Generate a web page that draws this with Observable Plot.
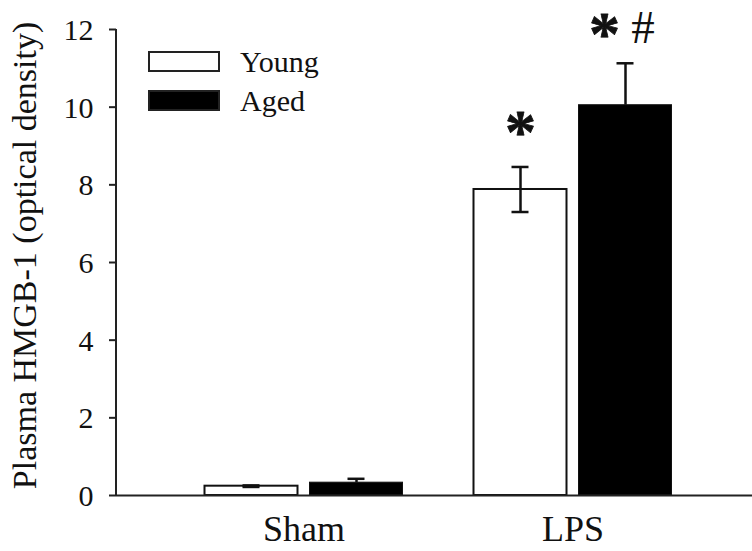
<!DOCTYPE html>
<html>
<head>
<meta charset="utf-8">
<script src="https://cdn.jsdelivr.net/npm/d3@7"></script>
<script src="https://cdn.jsdelivr.net/npm/@observablehq/plot@0.6"></script>
<style>
  html, body { margin: 0; padding: 0; background: #fff; }
  #wrap { position: relative; width: 752px; height: 551px; font-family: "Liberation Serif", "Times New Roman", serif; }
  #wrap svg text { font-family: "Liberation Serif", "Times New Roman", serif; }
  #legend { position: absolute; left: 148px; top: 42px; }
  .item { display: flex; align-items: center; height: 39px; font-size: 30px; color: #111; }
  .sw { width: 68px; height: 17px; border: 2px solid #222; margin-right: 20px; }
</style>
</head>
<body>
<div id="wrap"></div>
<script>
// ---- data ----
const groups = ["Sham", "LPS"];
const series = ["Young", "Aged"];
const youngMean = [0.24, 7.88];
const youngSE = [0.02, 0.58];
const agedMean = [0.33, 10.05];
const agedSE = [0.10, 1.08];
const yTicks = [0, 2, 4, 6, 8, 10, 12];
const yLabel = "Plasma HMGB-1 (optical density)";
const sigYoung = [{group: "LPS", text: "*"}];
const sigAgedStar = [{group: "LPS", text: "*"}];
const sigAgedHash = [{group: "LPS", text: "#"}];
const seriesFill = ["white", "black"];

const young = groups.map((g, i) => ({group: g, mean: youngMean[i], se: youngSE[i]}));
const aged = groups.map((g, i) => ({group: g, mean: agedMean[i], se: agedSE[i]}));
const topOf = (rows, g) => { const r = rows.find(d => d.group === g); return r.mean + r.se; };

const font = "Liberation Serif, Times New Roman, serif";
const axisColor = "#222";

const leftLine = (index, scales, values, dims) => {
  const g = d3.create("svg:line")
    .attr("x1", dims.marginLeft).attr("x2", dims.marginLeft)
    .attr("y1", scales.y(0) + 1).attr("y2", scales.y(12))
    .attr("stroke", axisColor).attr("stroke-width", 2);
  return g.node();
};

const chart = Plot.plot({
  width: 752,
  height: 551,
  marginLeft: 116,
  marginRight: 0,
  marginTop: 29,
  marginBottom: 56,
  style: {fontFamily: font, color: "#111", background: "white", overflow: "visible"},
  x: {domain: groups, range: [168.5, 706.5], padding: 0},
  y: {domain: [0, 12]},
  marks: [
    Plot.barY(young, {x: "group", y: "mean", fill: seriesFill[0], stroke: "#111", strokeWidth: 2, insetLeft: 35.5, insetRight: 140.5}),
    Plot.barY(aged, {x: "group", y: "mean", fill: seriesFill[1], stroke: "#111", strokeWidth: 1, insetLeft: 140.5, insetRight: 35.5}),
    // error bars
    Plot.ruleX(young, {x: "group", y1: d => d.mean - d.se, y2: d => d.mean + d.se, dx: -52.5, stroke: "#111", strokeWidth: 2.5}),
    Plot.ruleX(aged, {x: "group", y1: d => d.mean, y2: d => d.mean + d.se, dx: 52.5, stroke: "#111", strokeWidth: 2.5}),
    Plot.tickY(young, {x: "group", y: d => d.mean + d.se, insetLeft: 73.5, insetRight: 178.5, stroke: "#111", strokeWidth: 2.5}),
    Plot.tickY(young, {x: "group", y: d => d.mean - d.se, insetLeft: 73.5, insetRight: 178.5, stroke: "#111", strokeWidth: 2.5}),
    Plot.tickY(aged, {x: "group", y: d => d.mean + d.se, insetLeft: 178.5, insetRight: 73.5, stroke: "#111", strokeWidth: 2.5}),
    // axes
    Plot.ruleY([0], {stroke: axisColor, strokeWidth: 2}),
    leftLine,
    Plot.axisY({ticks: yTicks, tickSize: 7, tickFormat: () => "", label: null, stroke: axisColor, strokeWidth: 2}),
    Plot.text(yTicks, {y: d => d, text: d => String(d), frameAnchor: "left", textAnchor: "end", dx: -23, dy: 1, fontSize: 30, fill: "#111"}),
    Plot.axisX({tickSize: 0, tickPadding: 20, fontSize: 36, label: null, fill: "#111"}),
    Plot.text([yLabel], {frameAnchor: "left", textAnchor: "middle", rotate: -90, dx: -91, dy: -7, fontSize: 34, fill: "#111"}),
    // significance marks
    Plot.text(sigYoung, {x: "group", y: d => topOf(young, d.group), text: "text", dx: -52.5, dy: -15, lineAnchor: "bottom", fontSize: 62, fontWeight: "bold", fill: "#111", stroke: "#111", strokeWidth: 0.8}),
    Plot.text(sigAgedStar, {x: "group", y: d => topOf(aged, d.group), text: "text", dx: 31.5, dy: -9, lineAnchor: "bottom", fontSize: 62, fontWeight: "bold", fill: "#111", stroke: "#111", strokeWidth: 0.8}),
    Plot.text(sigAgedHash, {x: "group", y: d => topOf(aged, d.group), text: "text", dx: 70, dy: -20, lineAnchor: "bottom", fontSize: 47, fill: "#111"})
  ]
});

const wrap = document.getElementById("wrap");
wrap.appendChild(chart);
const legend = document.createElement("div");
legend.id = "legend";
series.forEach((s, i) => {
  const item = document.createElement("div");
  item.className = "item";
  const sw = document.createElement("span");
  sw.className = "sw";
  sw.style.background = seriesFill[i];
  const lab = document.createElement("span");
  lab.textContent = s;
  item.appendChild(sw);
  item.appendChild(lab);
  legend.appendChild(item);
});
wrap.appendChild(legend);
</script>
</body>
</html>
